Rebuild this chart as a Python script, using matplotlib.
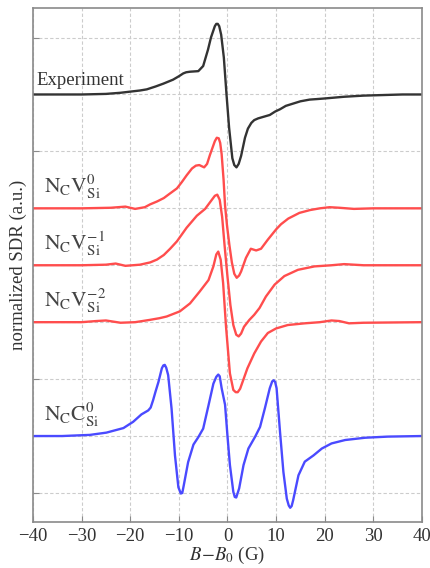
import numpy as np
import matplotlib
matplotlib.use("Agg")
import matplotlib.pyplot as plt

plt.rcParams['font.family'] = ['Liberation Serif', 'DejaVu Serif']
plt.rcParams['mathtext.fontset'] = 'stix'

# values (field in G, signal in grid units)
exp_x = [-40, -35, -30, -25, -22, -20, -18, -16.6, -14.8, -13.2, -11.2, -10, -9.1, -8.5, -7.7,
         -6.0, -5.0, -4.0, -3.4, -2.6, -2.3, -2.0, -1.7, -1.3, -0.75, -0.2, 0.34, 1.0, 1.4,
         1.85, 2.3, 2.8, 3.0, 3.6, 4.2, 4.9, 5.5, 6.3, 7.5, 8.7, 9.8, 10.8, 12, 13.5, 15,
         16.9, 18.5, 20, 22, 24, 28, 32, 36, 40]
exp_y = [7.0, 7.0, 7.0, 7.01, 7.03, 7.05, 7.07, 7.09, 7.14, 7.19, 7.26, 7.32, 7.37, 7.39, 7.40,
         7.41, 7.50, 7.79, 8.0, 8.2, 8.24, 8.24, 8.2, 8.05, 7.65, 7.0, 6.41, 5.88, 5.76,
         5.72, 5.78, 5.92, 6.0, 6.24, 6.4, 6.5, 6.55, 6.58, 6.61, 6.64, 6.7, 6.74, 6.8, 6.84, 6.88,
         6.91, 6.92, 6.93, 6.945, 6.96, 6.98, 6.99, 7.0, 7.0]

v0_x = [-40, -30, -24, -21, -19, -17, -15.9, -14.5, -13.1, -12, -10.4, -9.4, -8.4, -7.3, -6.5,
        -5.8, -4.8, -4.2, -3.6, -2.6, -2.2, -1.8, -1.5, -1.2, -0.8, -0.5, -0.1, 0.4, 0.9, 1.4,
        1.9, 2.4, 2.8, 3.8, 4.8, 5.9, 6.9, 8.3, 10, 11, 12.5, 14.8, 17, 19, 21, 23, 26, 30, 40]
v0_y = [5.0, 5.0, 5.01, 5.03, 4.99, 5.02, 5.07, 5.12, 5.18, 5.25, 5.35, 5.46, 5.58, 5.70, 5.75,
        5.76, 5.72, 5.78, 5.94, 6.18, 6.24, 6.23, 6.15, 5.95, 5.5, 5.05, 4.7, 4.35, 4.05, 3.85,
        3.78, 3.82, 3.89, 4.13, 4.29, 4.26, 4.29, 4.45, 4.63, 4.72, 4.82, 4.92, 4.97, 5.0, 5.02,
        5.01, 4.99, 5.0, 5.0]

v1_x = [-40, -30, -25, -23, -21, -18, -15.9, -14.5, -13.1, -11.8, -10.4, -8.4, -6.3, -4.6, -3.3,
        -2.6, -2.1, -1.6, -1.1, -0.6, 0, 0.6, 1.2, 1.8, 2.3, 2.8, 3.4, 4.5, 5.5, 6.6, 7.9, 9.7,
        11.7, 14.5, 17.9, 21.4, 24, 28, 40]
v1_y = [4.0, 4.0, 4.01, 4.03, 3.99, 4.01, 4.05, 4.1, 4.18, 4.29, 4.42, 4.66, 4.87, 4.99, 5.14,
        5.22, 5.24, 5.15, 4.85, 4.35, 3.8, 3.3, 2.95, 2.78, 2.75, 2.80, 2.92, 3.04, 3.13, 3.25,
        3.45, 3.66, 3.81, 3.92, 3.98, 4.0, 4.02, 4.0, 4.0]

v2_x = [-40, -30, -27, -25, -22, -19, -16, -14, -12.5, -9.8, -7.7, -5.7, -3.9, -2.9, -2.3, -1.9,
        -1.4, -0.9, -0.3, 0.5, 1.2, 1.7, 2.1, 2.6, 3.1, 4.1, 5.5, 6.9, 8.3, 10, 12.4, 15.9,
        19, 21.4, 23, 25, 28, 40]
v2_y = [3.0, 3.0, 3.02, 3.03, 2.99, 3.0, 3.04, 3.07, 3.1, 3.19, 3.33, 3.54, 3.74, 3.98, 4.19, 4.24,
        4.1, 3.69, 2.92, 2.1, 1.81, 1.77, 1.77, 1.83, 1.95, 2.19, 2.45, 2.66, 2.81, 2.89, 2.95, 2.98,
        3.0, 3.03, 3.02, 2.98, 2.99, 3.0]

c0_x = [-40, -34, -28.3, -24.9, -21.4, -19.4, -17.7, -16.3, -15.8, -15.3, -14.8, -14.2, -13.5,
        -13.2, -12.9, -12.6, -12.2, -11.5, -10.8, -10.1, -9.6, -9.3, -9.0, -8.1, -7.0, -6.0,
        -5.0, -3.9, -2.9, -2.3, -1.9, -1.6, -1.2, -0.5, 0.0, 0.5, 1.2, 1.5, 1.8, 2.4, 3.3, 4.3,
        5.7, 6.7, 7.7, 8.7, 9.2, 9.5, 9.8, 10.1, 10.8, 11.5, 12.2, 12.6, 12.9, 13.2, 13.5, 14.6,
        15.9, 17.7, 19.4, 21.4, 24.2, 28.3, 33, 40]
c0_y = [1.0, 1.0, 1.02, 1.06, 1.14, 1.25, 1.38, 1.45, 1.5, 1.63, 1.78, 1.95, 2.19,
        2.24, 2.25, 2.2, 2.07, 1.48, 0.66, 0.10, -0.01, 0.0, 0.13, 0.54, 0.85, 0.98,
        1.13, 1.54, 1.92, 2.04, 2.08, 2.05, 1.84, 1.55, 1.0, 0.49, 0.02, -0.07, -0.08, 0.08, 0.49, 0.78,
        0.99, 1.16, 1.49, 1.84, 1.96, 1.98, 1.95, 1.84, 1.08, 0.37, -0.1, -0.22, -0.26, -0.23, -0.13, 0.31,
        0.55, 0.66, 0.78, 0.87, 0.93, 0.97, 0.99, 1.0]

labels = ["Experiment", r"$\mathrm{N_CV_{Si}^{0}}$", r"$\mathrm{N_CV_{Si}^{-1}}$",
          r"$\mathrm{N_CV_{Si}^{-2}}$", r"$\mathrm{N_CC_{Si}^{0}}$"]
baselines = [7, 5, 4, 3, 1]

fig = plt.figure(figsize=(4.31, 5.68), dpi=100)
ax = fig.add_axes([0.0766, 0.081, 0.9024, 0.905])

red = "#ff4d4d"
kw = dict(lw=1.7, solid_joinstyle="round", solid_capstyle="round")
ax.plot(exp_x, exp_y, color="#333333", **kw)
ax.plot(v0_x, v0_y, color=red, **kw)
ax.plot(v1_x, v1_y, color=red, **kw)
ax.plot(v2_x, v2_y, color=red, **kw)
ax.plot(c0_x, c0_y, color="#4a4aff", **kw)

ax.text(-39.2, baselines[0] + 0.16, labels[0], fontsize=13.5, color="#333333", va="baseline")
for lab, b in zip(labels[1:], baselines[1:]):
    ax.text(-37.8, b + 0.27, lab, fontsize=15.5, color="#444444", va="baseline")

ax.set_xlim(-40, 40)
ax.set_ylim(-0.51, 8.52)
ax.set_xticks(np.arange(-40, 41, 10))
ax.set_yticks(np.arange(0, 9, 1))
ax.set_yticklabels([])
ax.grid(True, color="#cccccc", ls=(0, (3, 2)), lw=0.8)
for s in ax.spines.values():
    s.set_color("#8a8a8a")
    s.set_linewidth(1.2)
ax.tick_params(axis="both", direction="in", length=4, color="#8a8a8a",
               labelsize=13.5, labelcolor="#333333", pad=4)
ax.set_xlabel(r"$B\!-\!B_0$ (G)", fontsize=13.5, color="#333333", labelpad=0)
ax.set_ylabel("normalized SDR (a.u.)", fontsize=13.5, color="#333333", labelpad=0)

plt.savefig("out.png", dpi=100)
